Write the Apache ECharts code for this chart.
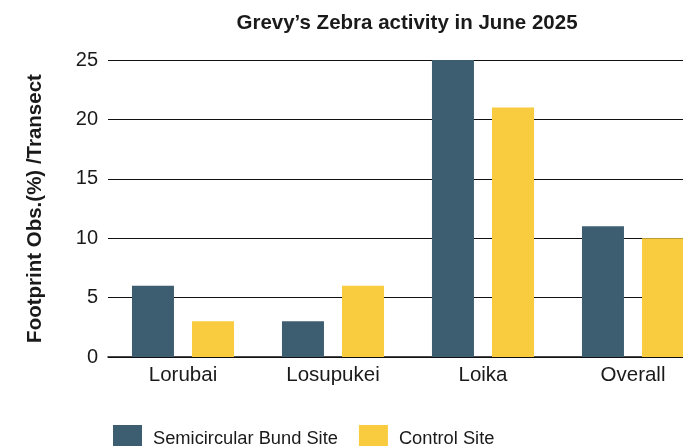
<!DOCTYPE html>
<html>
<head>
<meta charset="utf-8">
<script src="https://cdn.jsdelivr.net/npm/echarts@6/dist/echarts.min.js"></script>
<style>
html,body{margin:0;padding:0;background:#fff;overflow:hidden;width:683px;height:446px;}
#chart{width:720px;height:446px;}
</style>
</head>
<body>
<div id="chart"></div>
<script>
var categories = ['Lorubai', 'Losupukei', 'Loika', 'Overall'];
var bundSite = [6, 3, 25, 11];
var controlSite = [3, 6, 21, 10];
var seriesNames = ['Semicircular Bund Site', 'Control Site'];
var yTicks = [0, 5, 10, 15, 20, 25];

var FONT = '"Liberation Sans", Arial, Helvetica, sans-serif';
var chart = echarts.init(document.getElementById('chart'), null, {renderer: 'canvas'});
chart.setOption({
  animation: false,
  backgroundColor: '#ffffff',
  title: {
    text: "Grevy\u2019s Zebra activity in June 2025",
    left: 402, top: 8, textAlign: 'center',
    textStyle: {fontFamily: FONT, fontSize: 20.5, fontWeight: 'bold', color: '#1a1a1a'}
  },
  legend: {
    data: seriesNames,
    left: 108, top: 420,
    itemWidth: 29, itemHeight: 28, itemGap: 21,
    icon: 'rect',
    textStyle: {fontFamily: FONT, fontSize: 18.3, color: '#1a1a1a', padding: [3, 0, 0, 6]}
  },
  grid: {left: 108, top: 60, width: 600, height: 297, containLabel: false},
  xAxis: {
    type: 'category',
    data: categories,
    axisLine: {show: true, lineStyle: {color: '#111', width: 1.5}},
    axisTick: {show: false},
    axisLabel: {fontFamily: FONT, fontSize: 20.5, color: '#1a1a1a', margin: 8}
  },
  yAxis: {
    type: 'value',
    min: yTicks[0], max: yTicks[yTicks.length - 1], interval: 5,
    name: 'Footprint Obs.(%) /Transect',
    nameLocation: 'middle', nameGap: 62,
    nameTextStyle: {fontFamily: FONT, fontSize: 20.5, fontWeight: 'bold', color: '#1a1a1a'},
    axisLine: {show: false},
    axisTick: {show: false},
    axisLabel: {fontFamily: FONT, fontSize: 20, color: '#1a1a1a', margin: 10},
    splitLine: {show: true, lineStyle: {color: '#111', width: 1}}
  },
  series: [
    {name: seriesNames[0], type: 'bar', data: bundSite, barWidth: 42, barGap: '43%',
     itemStyle: {color: '#3d5d70'}},
    {name: seriesNames[1], type: 'bar', data: controlSite, barWidth: 42,
     itemStyle: {color: '#f8cc3e'}}
  ]
});
</script>
</body>
</html>
